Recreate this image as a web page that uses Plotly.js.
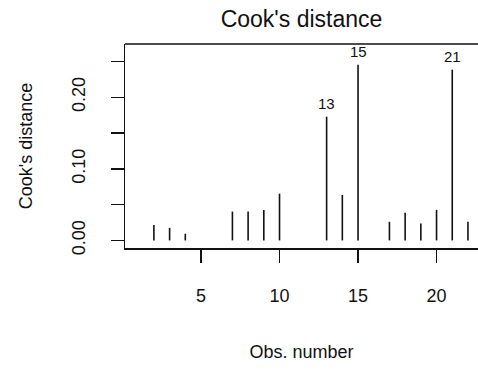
<!DOCTYPE html>
<html>
<head>
<meta charset="utf-8">
<script src="https://cdn.plot.ly/plotly-3.0.1.min.js"></script>
<style>html,body{margin:0;padding:0;background:#fff;}#chart{width:478px;height:370px;}</style>
</head>
<body>
<div id="chart"></div>
<script>
const obs = [1,2,3,4,5,6,7,8,9,10,11,12,13,14,15,16,17,18,19,20,21,22];
const cooks = [0.0001,0.0214,0.0176,0.0093,0.0001,0.0001,0.0403,0.0403,0.0426,0.0653,0.0001,0.0001,0.1728,0.0635,0.2454,0.0001,0.0260,0.0385,0.0236,0.0426,0.2385,0.0260];
// Labelled (most influential) observations
const labelledObs = [13,15,21];
const xTickVals = [5,10,15,20];
const yTickVals = [0,0.05,0.10,0.15,0.20,0.25];
const yTickText = ["0.00","","0.10","","0.20",""];

// Build vertical "h"-type segments from the data
const segX = [], segY = [];
obs.forEach((o, i) => { segX.push(o, o, null); segY.push(0, cooks[i], null); });

const font = "Liberation Sans, Arial, sans-serif";
const trace = {
  type: "scatter", mode: "lines", x: segX, y: segY,
  line: {color: "#111", width: 1.6}, hoverinfo: "skip", showlegend: false
};

const annotations = labelledObs.map(o => ({
  x: o, y: cooks[obs.indexOf(o)], xref: "x", yref: "y",
  text: String(o), showarrow: false, yanchor: "middle", yshift: 13,
  font: {family: font, size: 15, color: "#111"}
}));

const layout = {
  width: 478, height: 370,
  margin: {l: 125, r: 0, t: 44, b: 122},
  paper_bgcolor: "#fff", plot_bgcolor: "#fff",
  title: {text: "Cook's distance", font: {family: font, size: 23, color: "#111"},
          x: 0.5, xref: "paper", y: 1, yref: "paper", yanchor: "bottom", pad: {b: 17}},
  xaxis: {
    range: [0.16, 22.64], showgrid: false, zeroline: false,
    showline: true, linecolor: "#111", linewidth: 1.5,
    ticks: "outside", ticklen: 13, tickwidth: 1.5, tickcolor: "#111",
    tickvals: xTickVals, ticktext: xTickVals.map(String),
    tickfont: {family: font, size: 18, color: "#111"}, ticklabelstandoff: 18,
    title: {text: "Obs. number", font: {family: font, size: 18, color: "#111"}, standoff: 40}
  },
  yaxis: {
    range: [-0.0106, 0.2744], showgrid: false, zeroline: false,
    showline: true, linecolor: "#111", linewidth: 1.5,
    ticks: "outside", ticklen: 13, tickwidth: 1.5, tickcolor: "#111",
    tickvals: yTickVals, ticktext: yTickText, tickangle: -90,
    tickfont: {family: font, size: 18, color: "#111"}, ticklabelstandoff: 18,
    title: {text: "Cook's distance", font: {family: font, size: 18, color: "#111"}, standoff: 32}
  },
  shapes: [{type: "line", xref: "paper", yref: "paper", x0: 0, x1: 1, y0: 1, y1: 1,
            line: {color: "#111", width: 1.5}}],
  annotations: annotations
};

Plotly.newPlot("chart", [trace], layout, {displayModeBar: false, staticPlot: true});
</script>
</body>
</html>
